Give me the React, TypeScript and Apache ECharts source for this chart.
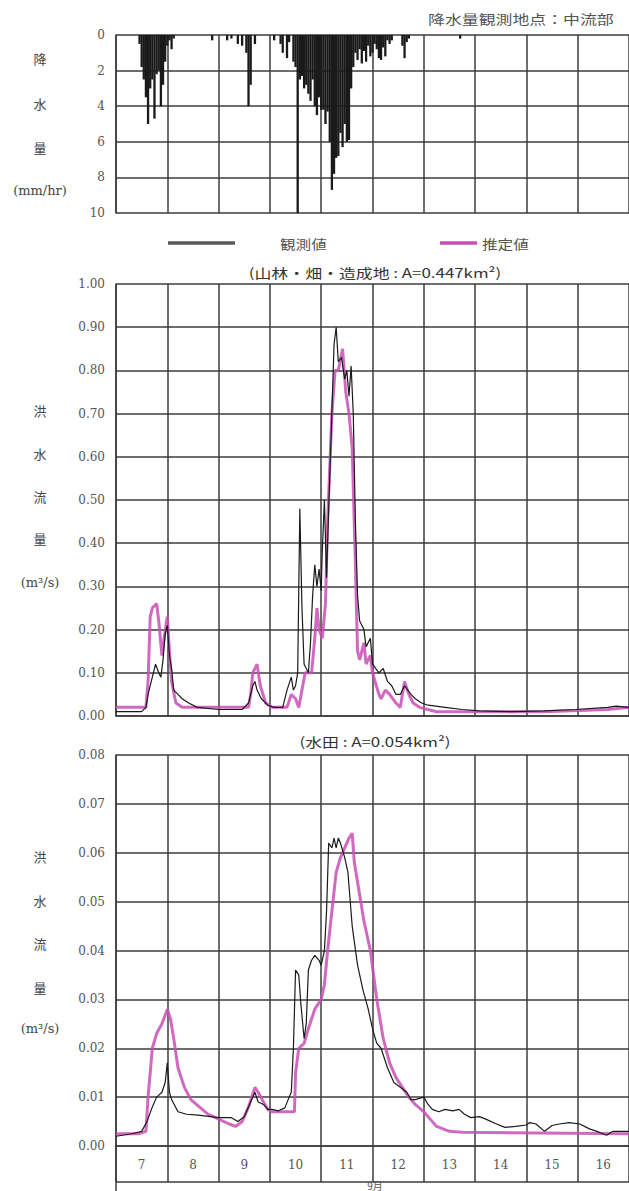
import React, { useEffect, useRef } from "react";
import * as echarts from "echarts";

// hours since 7 Sep 00:00
const dayLabels = ["7", "8", "9", "10", "11", "12", "13", "14", "15", "16"];
const rainTicks = [0, 2, 4, 6, 8, 10];

const rainfall: [number, number][] = [
  [11, 0.5], [12, 1.8], [13, 2.5], [14, 3.5], [15, 5.0], [16, 3.0], [17, 2.5], [18, 4.7], [19, 2.2], [20, 2.0],
  [21, 4.0], [22, 2.8], [23, 1.5], [24, 0.6], [25, 0.3], [26, 0.8], [27, 0.2], [45, 0.3], [52, 0.3], [54, 0.2],
  [57, 0.5], [59, 0.6], [61, 1.0], [62, 4.0], [63, 2.8], [65, 0.5], [74, 0.3], [77, 0.5], [78, 1.0], [80, 1.3],
  [81, 0.4], [83, 1.5], [84, 1.8], [85, 10], [86, 2.5], [87, 2.3], [88, 3.0], [89, 2.8], [90, 3.3], [91, 3.7],
  [92, 2.5], [93, 4.0], [94, 4.5], [95, 3.5], [96, 4.2], [97, 4.2], [98, 5.0], [99, 4.3], [100, 6.0], [101, 8.7],
  [102, 7.8], [103, 6.9], [104, 6.8], [105, 5.5], [106, 6.3], [107, 5.0], [108, 6.0], [109, 5.9], [110, 3.0],
  [111, 1.8], [112, 1.0], [113, 1.4], [114, 0.8], [115, 1.6], [116, 0.9], [117, 1.5], [118, 0.6], [119, 1.2],
  [120, 1.0], [121, 0.5], [122, 0.8], [123, 1.3], [124, 1.4], [125, 0.7], [126, 1.2], [127, 0.3], [128, 0.5],
  [129, 0.3], [134, 0.6], [135, 1.3], [136, 0.4], [137, 0.2], [161, 0.2],
];

const obsForest: [number, number][] = [
  [0, 0.01], [12, 0.01], [14, 0.02], [15, 0.05], [17, 0.09], [18.5, 0.12], [20, 0.10], [21, 0.09], [22, 0.13],
  [23, 0.19], [24, 0.21], [25, 0.14], [26, 0.11], [27, 0.06], [29, 0.05], [31, 0.04], [34, 0.03], [38, 0.02],
  [48, 0.015], [59, 0.015], [62, 0.03], [64, 0.07], [65, 0.08], [66, 0.06], [68, 0.04], [71, 0.025], [74, 0.02],
  [78, 0.02], [80, 0.06], [82, 0.09], [83, 0.06], [84, 0.07], [85, 0.10], [86, 0.48], [87, 0.25], [88, 0.12],
  [90, 0.10], [91, 0.17], [92, 0.28], [93, 0.35], [94, 0.30], [95, 0.34], [96, 0.29], [96.5, 0.38], [97.5, 0.50],
  [98.5, 0.32], [99.5, 0.48], [101, 0.70], [102, 0.86], [103, 0.90], [104, 0.82], [105.5, 0.83], [107, 0.78],
  [108, 0.80], [109, 0.74], [110, 0.81], [111, 0.70], [112, 0.45], [113, 0.28], [114, 0.22], [116, 0.20],
  [117, 0.16], [119, 0.18], [120, 0.12], [123, 0.10], [125, 0.11], [127, 0.08], [129, 0.07], [131, 0.05],
  [133, 0.05], [135, 0.07], [138, 0.05], [140, 0.04], [143, 0.03], [146, 0.025], [154, 0.02], [162, 0.015],
  [170, 0.012], [185, 0.01], [200, 0.012], [215, 0.015], [230, 0.02], [234, 0.023], [240, 0.02],
];

const estForest: [number, number][] = [
  [0, 0.02], [14, 0.02], [15, 0.08], [16, 0.23], [17, 0.25], [19, 0.26], [20, 0.22], [21.5, 0.14], [22.5, 0.18],
  [24, 0.23], [25, 0.15], [26, 0.08], [28, 0.03], [31, 0.02], [62, 0.02], [63, 0.05], [64, 0.10], [66, 0.12],
  [67.5, 0.07], [70, 0.03], [73, 0.02], [80, 0.02], [82, 0.05], [84, 0.04], [85.5, 0.02], [87, 0.06], [88.5, 0.10],
  [91.5, 0.10], [93, 0.18], [94, 0.25], [95, 0.20], [96.5, 0.18], [98, 0.26], [99, 0.45], [101, 0.70],
  [102.5, 0.80], [104, 0.80], [106, 0.85], [107.5, 0.75], [109, 0.70], [110.5, 0.62], [112, 0.35], [113, 0.15],
  [114, 0.13], [116, 0.17], [117, 0.12], [119, 0.14], [120, 0.10], [123, 0.05], [124, 0.04], [126, 0.06],
  [128, 0.05], [131, 0.03], [133, 0.02], [135, 0.08], [137, 0.05], [139, 0.03], [142, 0.02], [150, 0.01],
  [200, 0.01], [230, 0.015], [240, 0.02],
];

const obsPaddy: [number, number][] = [
  [0, 0.002], [7.5, 0.0025], [12, 0.003], [14.5, 0.005], [17, 0.008], [19, 0.010], [21.5, 0.011], [23, 0.013],
  [24, 0.017], [25, 0.011], [26, 0.0095], [29, 0.007], [33, 0.0065], [38.5, 0.0063], [48, 0.0058], [54, 0.0058],
  [57, 0.005], [60, 0.006], [63, 0.009], [65, 0.011], [66.5, 0.009], [69, 0.0085], [71, 0.0075], [73, 0.0075],
  [76, 0.0072], [79, 0.0078], [81, 0.010], [82, 0.011], [83, 0.020], [84, 0.036], [85.5, 0.035], [86.5, 0.029],
  [88, 0.022], [89, 0.025], [90, 0.036], [91.5, 0.038], [93, 0.039], [95, 0.038], [96, 0.037], [97.5, 0.040],
  [98.5, 0.048], [99.5, 0.062], [101, 0.061], [102, 0.063], [103, 0.061], [104, 0.063], [105, 0.062],
  [107, 0.059], [108.5, 0.056], [110.5, 0.045], [113, 0.037], [115.5, 0.032], [118, 0.028], [120, 0.024],
  [122, 0.021], [124, 0.020], [127, 0.016], [130, 0.013], [133, 0.012], [136, 0.011], [138, 0.0095],
  [140, 0.0095], [144, 0.010], [146, 0.0085], [148, 0.0075], [151, 0.007], [154, 0.0075], [157.5, 0.0072],
  [160.5, 0.0075], [163, 0.0065], [166, 0.0058], [170, 0.006], [173, 0.0055], [178, 0.0045], [182, 0.0038],
  [187, 0.004], [192, 0.0043], [193.5, 0.0048], [196.5, 0.0045], [200.5, 0.003], [204, 0.0042], [207.5, 0.0045],
  [212, 0.0048], [217, 0.0045], [221.5, 0.0035], [225, 0.003], [229.5, 0.0022], [232.5, 0.003], [240, 0.003],
];

const estPaddy: [number, number][] = [
  [0, 0.0025], [10.5, 0.0025], [14, 0.003], [15, 0.010], [17, 0.020], [19, 0.023], [21.5, 0.025], [24, 0.028],
  [25.5, 0.026], [27, 0.022], [29, 0.016], [32, 0.012], [35, 0.0095], [39, 0.008], [43, 0.0065], [48, 0.0055],
  [53, 0.0045], [56, 0.004], [59, 0.005], [62, 0.008], [65, 0.012], [66.5, 0.011], [69, 0.009], [71, 0.0075],
  [73, 0.007], [83.5, 0.007], [84, 0.015], [85.5, 0.020], [88, 0.021], [90, 0.024], [93, 0.028], [96, 0.030],
  [97.5, 0.033], [99, 0.040], [101, 0.048], [103, 0.056], [105, 0.059], [107, 0.061], [109, 0.063],
  [110.5, 0.064], [111.5, 0.058], [113, 0.054], [116, 0.046], [119, 0.040], [122, 0.030], [125, 0.022],
  [128, 0.017], [131, 0.014], [134, 0.012], [137, 0.010], [140, 0.0085], [144, 0.007], [147, 0.0055],
  [150, 0.004], [153, 0.0035], [156, 0.003], [162, 0.0028], [240, 0.0025],
];

const GRID_LINE = "#3c3c3c";
const MAGENTA = "#c94fb6";
const LABEL_FONT = "'DejaVu Serif', 'Liberation Serif', serif";
const CJK_FONT = "'Noto Sans CJK JP', sans-serif";

function xValueAxis(gridIndex: number, showLine: boolean) {
  return {
    type: "value",
    gridIndex,
    min: 0,
    max: 240,
    interval: 24,
    axisLabel: { show: false },
    axisTick: { show: false },
    axisLine: { show: showLine, onZero: false, lineStyle: { color: GRID_LINE, width: 1.5 } },
    splitLine: { show: true, lineStyle: { color: GRID_LINE, width: 1.5 } },
  };
}

function yAxis(gridIndex: number, min: number, max: number, interval: number, digits: number, inverse = false) {
  return {
    type: "value",
    gridIndex,
    min,
    max,
    interval,
    inverse,
    axisLine: { show: true, lineStyle: { color: GRID_LINE, width: 1.5 } },
    axisTick: { show: false },
    axisLabel: {
      margin: 11,
      color: "#555",
      fontFamily: LABEL_FONT,
      fontSize: 12,
      formatter: (v: number) => v.toFixed(digits),
    },
    splitLine: { show: true, lineStyle: { color: GRID_LINE, width: 1.5 } },
  };
}

function vText(x: number, y: number, text: string, size = 13) {
  return {
    type: "text",
    x,
    y,
    style: { text, fill: "#444", font: `${size}px ${CJK_FONT}`, align: "center", verticalAlign: "middle" },
  };
}

export default function App() {
  const ref = useRef<HTMLDivElement>(null);
  useEffect(() => {
    if (!ref.current) return;
    const chart = echarts.init(ref.current, null, { renderer: "svg" });
    const axisNames: any[] = [];
    [
      { ys: [58, 103, 147], unit: "(mm/hr)", uy: 190, chars: ["降", "水", "量"] },
      { ys: [410, 453, 496, 538], unit: "(m³/s)", uy: 582, chars: ["洪", "水", "流", "量"] },
      { ys: [856, 900, 943, 987], unit: "(m³/s)", uy: 1028, chars: ["洪", "水", "流", "量"] },
    ].forEach((g) => {
      g.chars.forEach((c, i) => axisNames.push(vText(40, g.ys[i], c)));
      axisNames.push({
        type: "text",
        x: 40,
        y: g.uy,
        style: { text: g.unit, fill: "#444", font: `13px ${LABEL_FONT}`, align: "center", verticalAlign: "middle" },
      });
    });

    chart.setOption({
      animation: false,
      backgroundColor: "#ffffff",
      grid: [
        { left: 116, right: -4, top: 35, height: 178 },
        { left: 116, right: -4, top: 284, height: 432 },
        { left: 116, right: -4, top: 755, height: 391 },
      ],
      xAxis: [
        xValueAxis(0, false),
        xValueAxis(1, true),
        xValueAxis(2, true),
        {
          type: "category",
          gridIndex: 2,
          position: "bottom",
          data: dayLabels,
          boundaryGap: true,
          axisLine: { show: false },
          axisTick: { show: true, length: 36, interval: 0, lineStyle: { color: GRID_LINE, width: 1.5 } },
          axisLabel: { margin: 13, color: "#555", fontFamily: LABEL_FONT, fontSize: 12, interval: 0 },
          splitLine: { show: false },
        },
      ],
      yAxis: [
        yAxis(0, rainTicks[0], rainTicks[rainTicks.length - 1], 2, 0, true),
        yAxis(1, 0, 1, 0.1, 2),
        yAxis(2, 0, 0.08, 0.01, 2),
      ],
      series: [
        {
          name: "降水量",
          type: "bar",
          xAxisIndex: 0,
          yAxisIndex: 0,
          data: rainfall,
          barWidth: 2.3,
          itemStyle: { color: "#1a1a1a" },
        },
        {
          name: "推定値",
          type: "line",
          xAxisIndex: 1,
          yAxisIndex: 1,
          data: estForest,
          showSymbol: false,
          z: 3,
          lineStyle: { color: MAGENTA, width: 3, opacity: 0.85 },
        },
        {
          name: "観測値",
          type: "line",
          xAxisIndex: 1,
          yAxisIndex: 1,
          data: obsForest,
          showSymbol: false,
          z: 4,
          lineStyle: { color: "#1a1a1a", width: 1.2 },
        },
        {
          name: "推定値",
          type: "line",
          xAxisIndex: 2,
          yAxisIndex: 2,
          data: estPaddy,
          showSymbol: false,
          z: 3,
          lineStyle: { color: MAGENTA, width: 3, opacity: 0.85 },
        },
        {
          name: "観測値",
          type: "line",
          xAxisIndex: 2,
          yAxisIndex: 2,
          data: obsPaddy,
          showSymbol: false,
          z: 4,
          lineStyle: { color: "#1a1a1a", width: 1.2 },
        },
      ],
      graphic: [
        {
          type: "text",
          x: 428,
          y: 18,
          scaleX: 1.3,
          style: { text: "降水量観測地点：中流部", fill: "#555", font: `13px ${CJK_FONT}`, verticalAlign: "middle" },
        },
        { type: "line", shape: { x1: 168, y1: 243, x2: 235, y2: 243 }, style: { stroke: "#5a5a5a", lineWidth: 3.5 } },
        {
          type: "text",
          x: 280,
          y: 243,
          scaleX: 1.2,
          style: { text: "観測値", fill: "#555", font: `13px ${CJK_FONT}`, verticalAlign: "middle" },
        },
        { type: "line", shape: { x1: 440, y1: 243, x2: 477, y2: 243 }, style: { stroke: MAGENTA, lineWidth: 3.5 } },
        {
          type: "text",
          x: 482,
          y: 243,
          scaleX: 1.2,
          style: { text: "推定値", fill: "#555", font: `13px ${CJK_FONT}`, verticalAlign: "middle" },
        },
        {
          type: "text",
          x: 375,
          y: 272,
          scaleX: 1.3,
          style: {
            text: "(山林・畑・造成地 : A=0.447km²)",
            fill: "#333",
            font: `13px ${CJK_FONT}`,
            align: "center",
            verticalAlign: "middle",
          },
        },
        {
          type: "text",
          x: 375,
          y: 741,
          scaleX: 1.3,
          style: {
            text: "(水田 : A=0.054km²)",
            fill: "#333",
            font: `13px ${CJK_FONT}`,
            align: "center",
            verticalAlign: "middle",
          },
        },
        { type: "line", shape: { x1: 116, y1: 1182, x2: 629, y2: 1182 }, style: { stroke: GRID_LINE, lineWidth: 1.5 } },
        { type: "line", shape: { x1: 116, y1: 1146, x2: 116, y2: 1191 }, style: { stroke: GRID_LINE, lineWidth: 1.5 } },
        {
          type: "text",
          x: 375,
          y: 1190,
          style: { text: "9月", fill: "#555", font: `10px ${CJK_FONT}`, align: "center", verticalAlign: "bottom" },
        },
        ...axisNames,
      ],
    });
    return () => chart.dispose();
  }, []);
  return <div ref={ref} style={{ position: "absolute", left: 0, top: 0, width: 629, height: 1191 }} />;
}
